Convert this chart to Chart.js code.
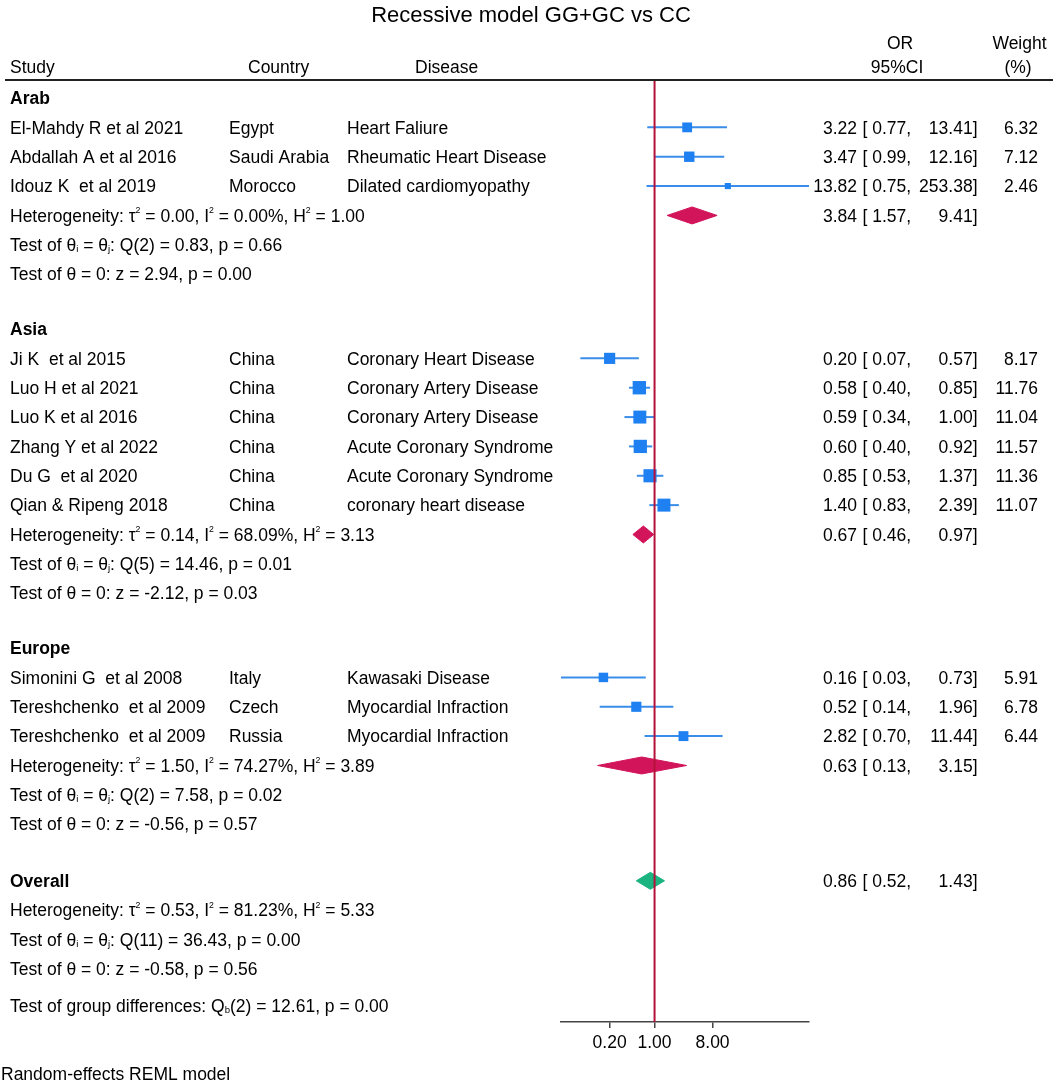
<!DOCTYPE html>
<html><head><meta charset="utf-8">
<script src="https://cdn.jsdelivr.net/npm/chart.js@4.4.1/dist/chart.umd.min.js"></script>
<style>html,body{margin:0;padding:0;background:#fff;} canvas{display:block}</style>
</head><body>
<canvas id="c" width="1056" height="1083" style="width:1056px;height:1083px"></canvas>
<script>
// ---------------- DATA ----------------
const studyLabels = ['El-Mahdy R et al 2021','Abdallah A et al 2016','Idouz K  et al 2019',
  'Ji K  et al 2015','Luo H et al 2021','Luo K et al 2016','Zhang Y et al 2022','Du G  et al 2020','Qian & Ripeng 2018',
  'Simonini G  et al 2008','Tereshchenko  et al 2009','Tereshchenko  et al 2009'];
const studyGroups = ['Arab','Arab','Arab','Asia','Asia','Asia','Asia','Asia','Asia','Europe','Europe','Europe'];
const countries = ['Egypt','Saudi Arabia','Morocco','China','China','China','China','China','China','Italy','Czech','Russia'];
const diseases = ['Heart Faliure','Rheumatic Heart Disease','Dilated cardiomyopathy','Coronary Heart Disease',
  'Coronary Artery Disease','Coronary Artery Disease','Acute Coronary Syndrome','Acute Coronary Syndrome',
  'coronary heart disease','Kawasaki Disease','Myocardial Infraction','Myocardial Infraction'];
const orValues = [3.22,3.47,13.82,0.20,0.58,0.59,0.60,0.85,1.40,0.16,0.52,2.82];
const ciLower  = [0.77,0.99,0.75,0.07,0.40,0.34,0.40,0.53,0.83,0.03,0.14,0.70];
const ciUpper  = [13.41,12.16,253.38,0.57,0.85,1.00,0.92,1.37,2.39,0.73,1.96,11.44];
const weights  = [6.32,7.12,2.46,8.17,11.76,11.04,11.57,11.36,11.07,5.91,6.78,6.44];

const groupNames = ['Arab','Asia','Europe'];
const groupOR    = [3.84,0.67,0.63];
const groupLower = [1.57,0.46,0.13];
const groupUpper = [9.41,0.97,3.15];
const groupHet = ['Heterogeneity: τ^{2} = 0.00, I^{2} = 0.00%, H^{2} = 1.00',
                  'Heterogeneity: τ^{2} = 0.14, I^{2} = 68.09%, H^{2} = 3.13',
                  'Heterogeneity: τ^{2} = 1.50, I^{2} = 74.27%, H^{2} = 3.89'];
const groupQ = ['Test of θ_{i} = θ_{j}: Q(2) = 0.83, p = 0.66',
                'Test of θ_{i} = θ_{j}: Q(5) = 14.46, p = 0.01',
                'Test of θ_{i} = θ_{j}: Q(2) = 7.58, p = 0.02'];
const groupZ = ['Test of θ = 0: z = 2.94, p = 0.00',
                'Test of θ = 0: z = -2.12, p = 0.03',
                'Test of θ = 0: z = -0.56, p = 0.57'];

const overallOR = 0.86, overallLower = 0.52, overallUpper = 1.43;
const overallNotes = ['Heterogeneity: τ^{2} = 0.53, I^{2} = 81.23%, H^{2} = 5.33',
                      'Test of θ_{i} = θ_{j}: Q(11) = 36.43, p = 0.00',
                      'Test of θ = 0: z = -0.58, p = 0.56'];
const groupDiffNote = 'Test of group differences: Q_{b}(2) = 12.61, p = 0.00';

const tickValues = [0.2, 1, 8];
const titleText = 'Recessive model GG+GC vs CC';
const footerText = 'Random-effects REML model';

// ---------------- LAYOUT (computed) ----------------
const FONT = '"Liberation Sans", Arial, Helvetica, sans-serif';
const FS = 17.5;
const GROUP_GAP = 0.87, OVERALL_GAP = 0.93, DIFF_GAP = 0.27;
const rows = [];
let v = 0;
const studyRow = [];
const groupRow = [];
groupNames.forEach((g, gi) => {
  if (gi > 0) v += 1 + GROUP_GAP;
  rows.push({v, type: 'header', text: g}); v += 1;
  studyGroups.forEach((sg, i) => {
    if (sg === g) { rows.push({v, type: 'study', i}); studyRow[i] = v; v += 1; }
  });
  rows.push({v, type: 'summary', gi}); groupRow[gi] = v; v += 1;
  rows.push({v, type: 'note', text: groupQ[gi]}); v += 1;
  rows.push({v, type: 'note', text: groupZ[gi]});
});
v += 1 + OVERALL_GAP;
const overallRow = v;
rows.push({v, type: 'overall'}); v += 1;
overallNotes.forEach(t => { rows.push({v, type: 'note', text: t}); v += 1; });
v += DIFF_GAP;
rows.push({v, type: 'note', text: groupDiffNote});

const Y_MIN = -0.58, Y_MAX = 31.48;
const BLUE = '#1f80f2', BLUE_LINE = '#3a8de8', RED = '#b5123a', DIAMOND = '#d2145a', GREEN = '#1bb37f';

// ---------------- DATASETS ----------------
const datasets = [];
// null line (drawn on top)
datasets.push({
  type: 'line',
  data: [{x: 1, y: Y_MIN}, {x: 1, y: Y_MAX}],
  borderColor: RED, borderWidth: 2, pointRadius: 0, fill: false, order: 0
});
// squares
datasets.push({
  type: 'scatter',
  data: orValues.map((o, i) => ({x: o, y: studyRow[i]})),
  pointStyle: 'rect',
  pointRadius: weights.map(w => 3.9 * Math.sqrt(w) / Math.SQRT2),
  pointHoverRadius: weights.map(w => 3.9 * Math.sqrt(w) / Math.SQRT2),
  backgroundColor: BLUE, borderWidth: 0, order: 1
});
// CI whiskers
orValues.forEach((o, i) => {
  datasets.push({
    type: 'line',
    data: [{x: ciLower[i], y: studyRow[i]}, {x: ciUpper[i], y: studyRow[i]}],
    borderColor: BLUE_LINE, borderWidth: 2, pointRadius: 0, fill: false, order: 2
  });
});
// diamonds
const DH = 8.5 / 29.35;
function diamond(est, lo, hi, y, color) {
  return {
    type: 'line',
    data: [{x: lo, y}, {x: est, y: y - DH}, {x: hi, y}, {x: est, y: y + DH}, {x: lo, y}],
    borderColor: color, backgroundColor: color, borderWidth: 1, pointRadius: 0,
    fill: 'shape', tension: 0, order: 1
  };
}
groupNames.forEach((g, gi) => datasets.push(diamond(groupOR[gi], groupLower[gi], groupUpper[gi], groupRow[gi], DIAMOND)));
datasets.push(diamond(overallOR, overallLower, overallUpper, overallRow, GREEN));

// ---------------- TEXT ----------------
function drawRich(ctx, str, x, y, size, weight, align) {
  const parts = str.split(/(\^\{[^}]*\}|_\{[^}]*\})/).filter(s => s.length);
  const segs = parts.map(p => {
    if (p.startsWith('^{')) return {t: p.slice(2, -1), s: size * 0.5, dy: -size * 0.47};
    if (p.startsWith('_{')) return {t: p.slice(2, -1), s: size * 0.55, dy: size * 0.05};
    return {t: p, s: size, dy: 0};
  });
  let total = 0;
  segs.forEach(sg => { ctx.font = `${weight} ${sg.s}px ${FONT}`; sg.w = ctx.measureText(sg.t).width; total += sg.w; });
  let cx = align === 'right' ? x - total : align === 'center' ? x - total / 2 : x;
  ctx.textAlign = 'left'; ctx.textBaseline = 'alphabetic';
  segs.forEach(sg => { ctx.font = `${weight} ${sg.s}px ${FONT}`; ctx.fillText(sg.t, cx, y + sg.dy); cx += sg.w; });
}

function drawCI(ctx, base, est, lo, hi, w) {
  drawRich(ctx, est.toFixed(2), 857, base, FS, 'normal', 'right');
  drawRich(ctx, '[ ' + lo.toFixed(2) + ',', 862.5, base, FS, 'normal', 'left');
  drawRich(ctx, hi.toFixed(2) + ']', 977.5, base, FS, 'normal', 'right');
  if (w !== undefined) drawRich(ctx, w.toFixed(2), 1038, base, FS, 'normal', 'right');
}

const textPlugin = {
  id: 'forestText',
  afterDraw(chart) {
    const ctx = chart.ctx, ys = chart.scales.y;
    ctx.save();
    ctx.fillStyle = '#000';
    // title
    drawRich(ctx, titleText, 531, 21.5, 22, 'normal', 'center');
    // headers
    drawRich(ctx, 'OR', 900, 49, FS, 'normal', 'center');
    drawRich(ctx, 'Weight', 1019.5, 49, FS, 'normal', 'center');
    drawRich(ctx, 'Study', 10, 72.5, FS, 'normal', 'left');
    drawRich(ctx, 'Country', 248, 72.5, FS, 'normal', 'left');
    drawRich(ctx, 'Disease', 415, 72.5, FS, 'normal', 'left');
    drawRich(ctx, '95%CI', 897, 72.5, FS, 'normal', 'center');
    drawRich(ctx, '(%)', 1018, 72.5, FS, 'normal', 'center');
    // top rule
    ctx.strokeStyle = '#222'; ctx.lineWidth = 2;
    ctx.beginPath(); ctx.moveTo(5, 80); ctx.lineTo(1053, 80); ctx.stroke();
    // rows
    rows.forEach(r => {
      const base = ys.getPixelForValue(r.v) + 6.2;
      if (r.type === 'header') drawRich(ctx, r.text, 10, base, FS, 'bold', 'left');
      else if (r.type === 'study') {
        const i = r.i;
        drawRich(ctx, studyLabels[i], 10, base, FS, 'normal', 'left');
        drawRich(ctx, countries[i], 229, base, FS, 'normal', 'left');
        drawRich(ctx, diseases[i], 347, base, FS, 'normal', 'left');
        drawCI(ctx, base, orValues[i], ciLower[i], ciUpper[i], weights[i]);
      } else if (r.type === 'summary') {
        drawRich(ctx, groupHet[r.gi], 10, base, FS, 'normal', 'left');
        drawCI(ctx, base, groupOR[r.gi], groupLower[r.gi], groupUpper[r.gi]);
      } else if (r.type === 'overall') {
        drawRich(ctx, 'Overall', 10, base, FS, 'bold', 'left');
        drawCI(ctx, base, overallOR, overallLower, overallUpper);
      } else {
        drawRich(ctx, r.text, 10, base, FS, 'normal', 'left');
      }
    });
    // footer
    drawRich(ctx, footerText, 1, 1080, FS, 'normal', 'left');
    ctx.restore();
  }
};

new Chart(document.getElementById('c'), {
  type: 'scatter',
  data: {datasets},
  options: {
    responsive: false,
    animation: false,
    events: [],
    layout: {padding: {left: 561, right: 247, top: 81, bottom: 0}},
    plugins: {legend: {display: false}, tooltip: {enabled: false}, title: {display: false}},
    scales: {
      x: {
        type: 'logarithmic', position: 'bottom', min: 0.035, max: 253.38,
        afterBuildTicks: s => { s.ticks = tickValues.map(t => ({value: t})); },
        afterFit: s => { s.height = 61; },
        ticks: {
          callback: val => Number(val).toFixed(2),
          font: {family: FONT, size: FS}, color: '#000', padding: 5,
          autoSkip: false, maxRotation: 0, minRotation: 0
        },
        grid: {drawOnChartArea: false, drawTicks: true, tickLength: 6, color: '#444', lineWidth: 1.5},
        border: {display: true, color: '#444', width: 1.5}
      },
      y: {type: 'linear', reverse: true, min: Y_MIN, max: Y_MAX, display: false}
    }
  },
  plugins: [textPlugin]
});
</script></body></html>
